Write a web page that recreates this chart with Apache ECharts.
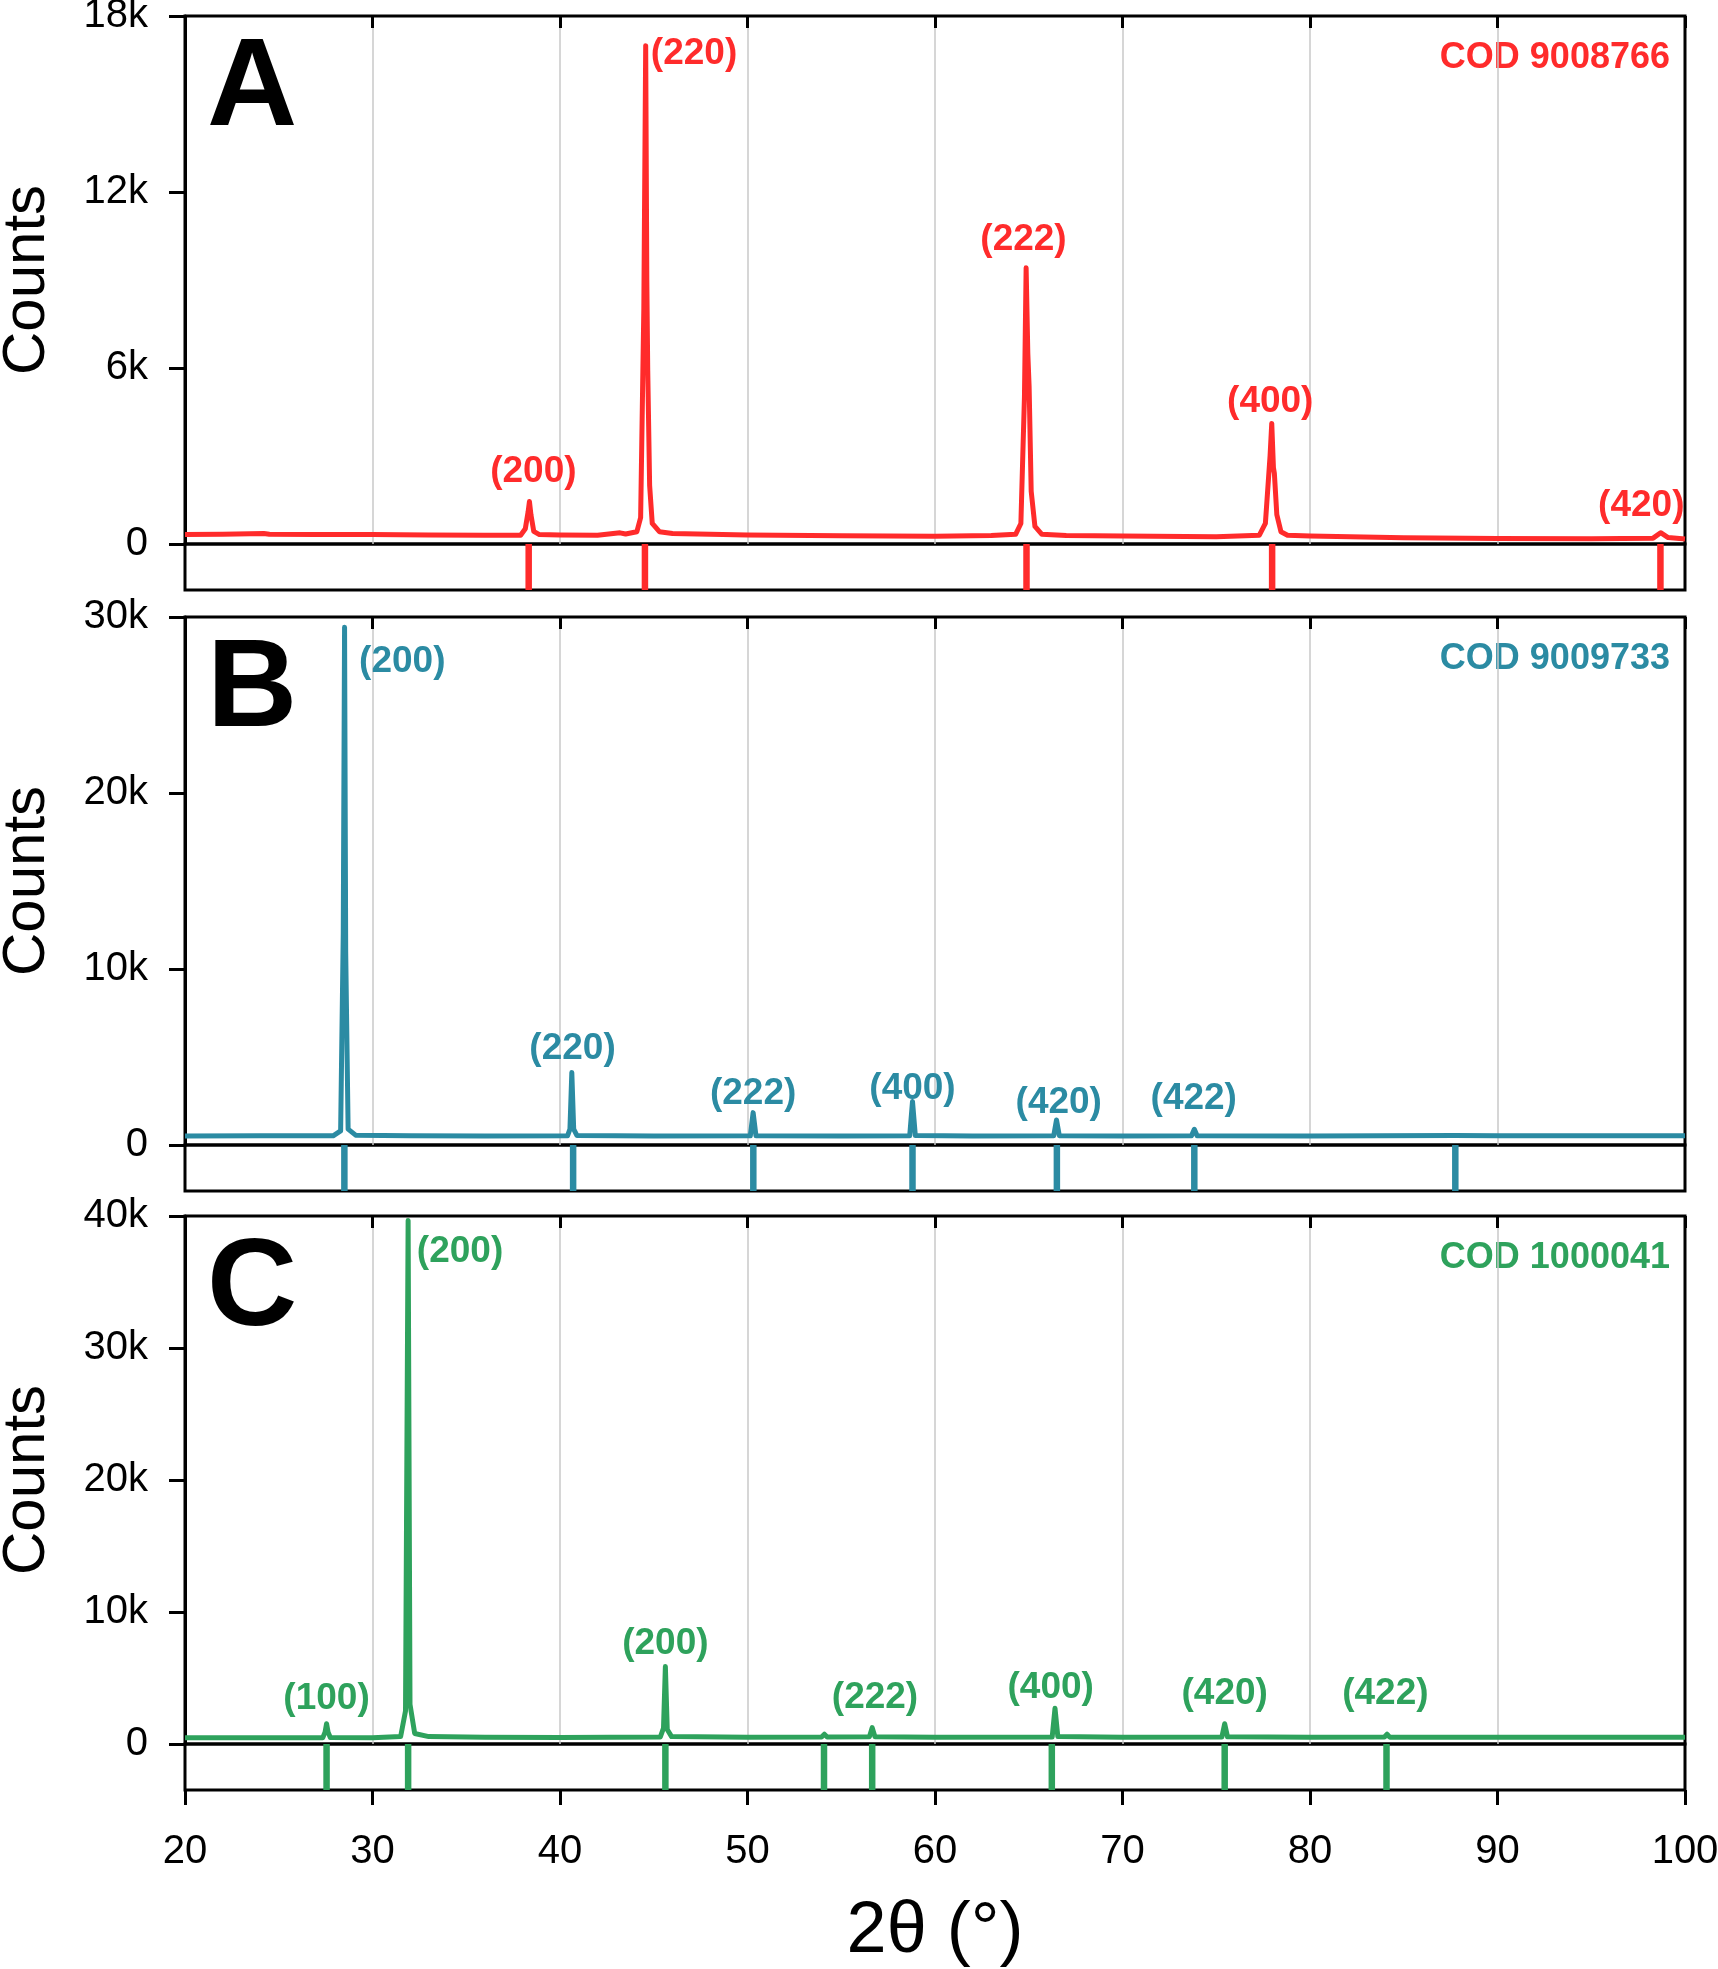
<!DOCTYPE html>
<html>
<head>
<meta charset="utf-8">
<script src="https://cdn.jsdelivr.net/npm/echarts@6/dist/echarts.min.js"></script>
<style>
  html, body { margin: 0; padding: 0; background: #fff; }
  #container { width: 1718px; height: 1969px; }
</style>
</head>
<body>
<div id="container"></div>
<script>
// measured patterns, [2theta, counts]
var spectrumA = [
    [20, 320], [22, 330], [24.2, 360], [24.5, 330], [27, 325], [30, 320], [33, 310], [36, 300],
    [37.9, 300], [38.15, 520], [38.3, 1100], [38.37, 1450], [38.45, 1000], [38.6, 430], [38.9, 320],
    [40, 310], [42, 300], [43.2, 380], [43.5, 340], [44.1, 420], [44.3, 900], [44.47, 8000],
    [44.57, 16990], [44.63, 9000], [44.68, 5900], [44.78, 2000], [44.92, 700], [45.3, 420], [46, 360],
    [50, 310], [55, 280], [60, 260], [63, 290], [64.3, 330], [64.58, 700], [64.77, 5000],
    [64.86, 9420], [64.95, 6500], [65.02, 5360], [65.13, 1800], [65.33, 600], [65.7, 330], [67, 290],
    [70, 270], [75, 250], [77.3, 300], [77.62, 700], [77.87, 3000], [77.96, 4110], [78.05, 2600],
    [78.1, 2410], [78.23, 1000], [78.45, 420], [78.8, 300], [80, 270], [85, 210], [90, 190],
    [95, 180], [98.3, 200], [98.7, 385], [99.1, 220], [100, 170]
];
var spectrumB = [
    [20, 510], [24, 520], [27.9, 520], [28.3, 800], [28.44, 12000], [28.51, 29420], [28.57, 11000],
    [28.7, 900], [29.1, 560], [32, 520], [36, 510], [40.4, 520], [40.53, 900], [40.63, 4120],
    [40.73, 900], [40.9, 540], [45, 510], [50.15, 520], [50.3, 1840], [50.45, 530], [55, 510],
    [58.65, 520], [58.8, 2470], [58.95, 540], [62, 510], [66.33, 520], [66.48, 1420], [66.63, 530],
    [70, 510], [73.68, 520], [73.83, 890], [73.98, 520], [80, 510], [87.7, 540], [90, 520],
    [95, 520], [100, 520]
];
var spectrumC = [
    [20, 480], [24, 470], [27.35, 480], [27.47, 900], [27.55, 1540], [27.63, 900], [27.75, 490],
    [30, 480], [31.5, 560], [31.76, 2500], [31.9, 39650], [32.0, 3000], [32.25, 800], [33, 560],
    [36, 520], [40, 500], [45.35, 530], [45.52, 1200], [45.62, 5870], [45.72, 1100], [45.95, 560],
    [50, 520], [53.95, 530], [54.1, 740], [54.25, 530], [56.5, 540], [56.65, 1240], [56.8, 540],
    [60, 510], [66.25, 530], [66.4, 2710], [66.55, 560], [70, 520], [75.3, 530], [75.45, 1540],
    [75.6, 540], [80, 520], [83.97, 530], [84.11, 740], [84.25, 520], [90, 520], [100, 520]
];

// reference (COD) reflection positions
var sticksA = [38.33, 44.53, 64.88, 77.98, 98.69];
var sticksB = [28.5, 40.7, 50.31, 58.8, 66.5, 73.83, 87.75];
var sticksC = [27.55, 31.9, 45.62, 54.08, 56.65, 66.23, 75.45, 84.08];

// hkl labels
var hklA = ['(200)', '(220)', '(222)', '(400)', '(420)'];
var hklXA = [38.58, 47.15, 64.72, 77.88, 97.67];
var hklYA = [2471, 16709, 10363, 4851, 1296];
var hklB = ['(200)', '(220)', '(222)', '(400)', '(420)', '(422)'];
var hklXB = [31.59, 40.67, 50.30, 58.80, 66.6, 73.80];
var hklYB = [27457, 5448, 2922, 3169, 2410, 2643];
var hklC = ['(100)', '(200)', '(200)', '(222)', '(400)', '(420)', '(422)'];
var hklXC = [27.55, 34.67, 45.62, 56.8, 66.17, 75.45, 84.02];
var hklYC = [3392, 37267, 7567, 3469, 4228, 3772, 3772];

var yMax = [18000, 30000, 40000];
var yStep = [6000, 10000, 10000];
var codNames = ['COD 9008766', 'COD 9009733', 'COD 1000041'];
var letters = ['A', 'B', 'C'];
var colors = ['#ff2b2b', '#2b8ba3', '#2ea25c'];

var spectra = [spectrumA, spectrumB, spectrumC];
var sticks = [sticksA, sticksB, sticksC];
var hkl = [hklA, hklB, hklC];
var hklX = [hklXA, hklXB, hklXC];
var hklY = [hklYA, hklYB, hklYC];

var FONT = 'Liberation Sans, Arial, Helvetica, sans-serif';
var panelTop = [16, 617, 1216];
var upperH = 528, lowerH = 46;

var grid = [], xAxis = [], yAxis = [], series = [], graphic = [];

for (var i = 0; i < 3; i++) {
    var t = panelTop[i];
    grid.push({left: 185, right: 33, top: t, height: upperH, show: true, borderColor: '#000', borderWidth: 3,
        containLabel: false, outerBoundsMode: 'none'});
    grid.push({left: 185, right: 33, top: t + upperH, height: lowerH, show: true, borderColor: '#000', borderWidth: 3,
        containLabel: false, outerBoundsMode: 'none'});

    xAxis.push({
        type: 'value', gridIndex: 2 * i, min: 20, max: 100, interval: 10, position: 'top',
        axisLine: {show: false, onZero: false},
        axisTick: {show: true, inside: true, length: 12, lineStyle: {color: '#000', width: 3}},
        axisLabel: {show: false},
        splitLine: {show: true, showMinLine: false, showMaxLine: false, lineStyle: {color: '#c8c8c8', width: 1.5}}
    });
    var last = i === 2;
    xAxis.push({
        type: 'value', gridIndex: 2 * i + 1, min: 20, max: 100, interval: 10, position: 'bottom',
        axisLine: {show: false, onZero: false},
        axisTick: {show: last, inside: false, length: 15, lineStyle: {color: '#000', width: 3}},
        axisLabel: {show: last, fontSize: 40, color: '#000', fontFamily: FONT, margin: 42},
        splitLine: {show: false},
        name: last ? '2θ (°)' : '', nameLocation: 'middle', nameGap: 106,
        nameTextStyle: {fontSize: 72, color: '#000', fontFamily: FONT}
    });

    yAxis.push({
        type: 'value', gridIndex: 2 * i, min: 0, max: yMax[i], interval: yStep[i],
        axisLine: {show: true, lineStyle: {color: '#000', width: 3}},
        axisTick: {show: true, inside: false, length: 16, lineStyle: {color: '#000', width: 3}},
        axisLabel: {
            fontSize: 40, color: '#000', fontFamily: FONT, margin: 37,
            formatter: function (v) { return v === 0 ? '0' : (v / 1000) + 'k'; }
        },
        splitLine: {show: false},
        name: 'Counts', nameLocation: 'middle', nameRotate: 90, nameGap: 128,
        nameTextStyle: {fontSize: 60, color: '#000', fontFamily: FONT}
    });
    yAxis.push({type: 'value', gridIndex: 2 * i + 1, min: 0, max: 1, show: false});

    series.push({
        type: 'line', xAxisIndex: 2 * i, yAxisIndex: 2 * i, data: spectra[i],
        showSymbol: false, symbol: 'none', z: 3,
        lineStyle: {color: colors[i], width: 5, join: 'round'}
    });
    var lab = [];
    for (var k = 0; k < hkl[i].length; k++) {
        lab.push({name: hkl[i][k], value: [hklX[i][k], hklY[i][k]]});
    }
    series.push({
        type: 'scatter', xAxisIndex: 2 * i, yAxisIndex: 2 * i, data: lab,
        symbolSize: 1, itemStyle: {color: 'rgba(0,0,0,0)', opacity: 1}, z: 4,
        label: {
            show: true, position: 'inside', formatter: '{b}',
            fontSize: 37, fontWeight: 'bold', color: colors[i], fontFamily: FONT
        }
    });
    series.push({
        type: 'bar', xAxisIndex: 2 * i + 1, yAxisIndex: 2 * i + 1,
        data: sticks[i].map(function (x) { return [x, 1]; }),
        barWidth: 6.5, itemStyle: {color: colors[i]}
    });

    graphic.push({
        type: 'text', x: 207, y: t + 75,
        style: {text: letters[i], font: 'bold 125px ' + FONT, fill: '#000', align: 'left', verticalAlign: 'middle'}
    });
    graphic.push({
        type: 'text', x: 1670, y: t + 42,
        style: {text: codNames[i], font: 'bold 36px ' + FONT, fill: colors[i], align: 'right', verticalAlign: 'middle'}
    });
}

var myChart = echarts.init(document.getElementById('container'), null, {renderer: 'canvas'});
var option = {
    animation: false,
    backgroundColor: '#fff',
    grid: grid,
    xAxis: xAxis,
    yAxis: yAxis,
    series: series,
    graphic: graphic
};
myChart.setOption(option);
</script>
</body>
</html>
